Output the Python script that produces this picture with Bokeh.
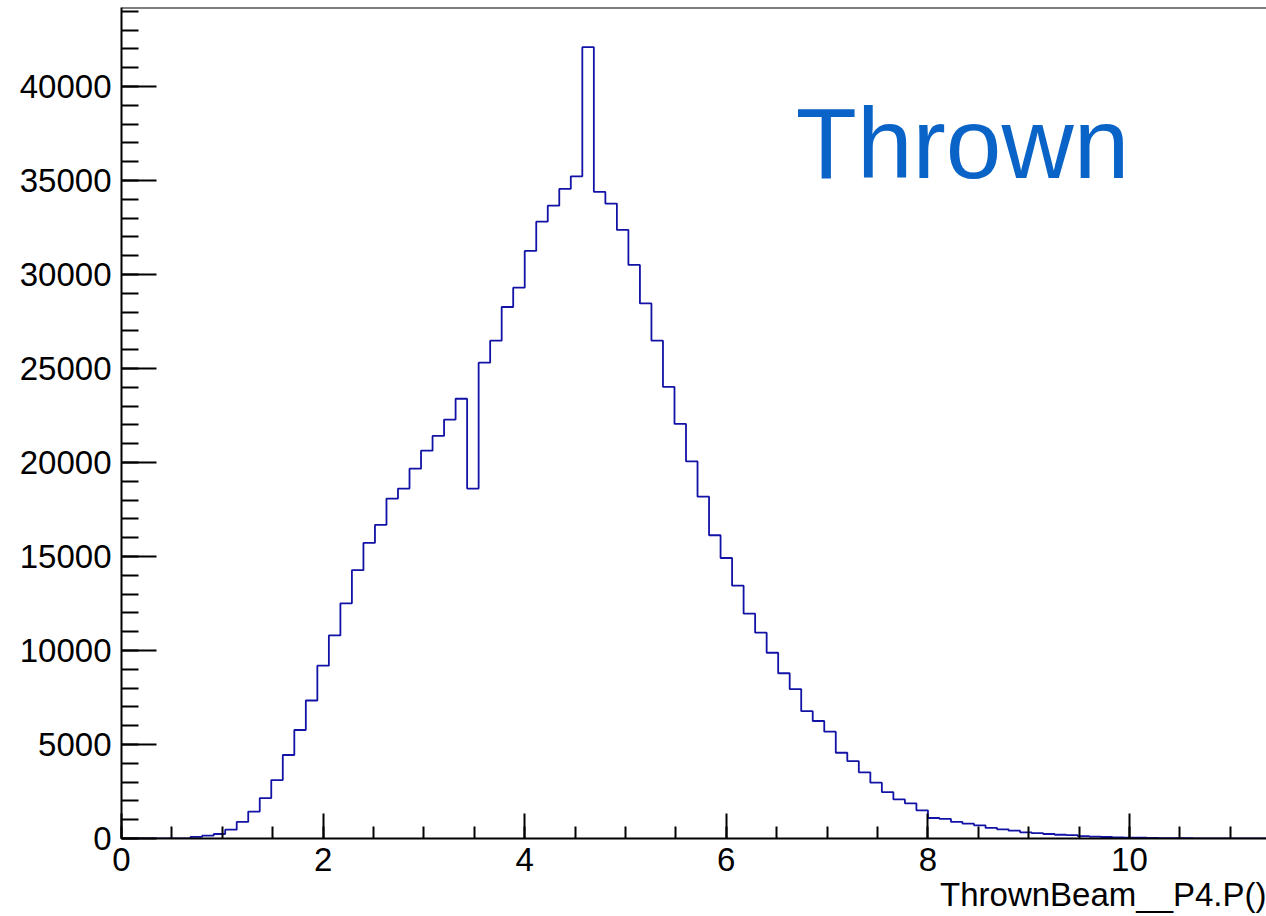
import numpy as np
from bokeh.plotting import figure
from bokeh.models import SingleIntervalTicker, Span, Label, Range1d, Title
from bokeh.embed import file_html
from bokeh.resources import INLINE

# Histogram: ThrownBeam__P4.P(), 100 bins from 0 to 11.43
hist_xmin = 0.0
hist_xmax = 11.43
counts = [
    0, 0, 0, 0, 0, 10, 90, 150, 240, 470,
    880, 1430, 2150, 3110, 4440, 5770, 7340, 9190, 10800, 12510,
    14270, 15720, 16680, 18080, 18610, 19670, 20630, 21410, 22280, 23390,
    18610, 25310, 26480, 28270, 29300, 31250, 32810, 33660, 34550, 35220,
    42090, 34390, 33770, 32370, 30510, 28460, 26480, 24020, 22050, 20060,
    18180, 16130, 14920, 13450, 11960, 10950, 9880, 8790, 7950, 6770,
    6250, 5680, 4560, 4120, 3520, 2970, 2470, 2080, 1870, 1500,
    1090, 1040, 880, 790, 700, 560, 490, 415, 330, 290,
    240, 200, 180, 130, 100, 80, 65, 50, 40, 30,
    25, 20, 14, 10, 8, 6, 4, 3, 2, 1,
]
x_title = "ThrownBeam__P4.P()"
label_text = "Thrown"

X_START, X_END = 0.0, 11.36
Y_START, Y_END = 0.0, 44200.0

n_bins = len(counts)
edges = np.linspace(hist_xmin, hist_xmax, n_bins + 1)
step_y = list(counts) + [counts[-1]]

FONT = "Liberation Sans"

p = figure(
    width=1266, height=916,
    x_range=Range1d(X_START, X_END), y_range=Range1d(Y_START, Y_END),
    output_backend="svg", toolbar_location=None,
    min_border_left=121, min_border_right=0, min_border_top=7, min_border_bottom=78,
)
p.outline_line_color = None
p.xgrid.visible = False
p.ygrid.visible = False
p.background_fill_color = "white"
p.border_fill_color = "white"

p.step(edges, step_y, mode="after", line_color="#1212a6", line_width=1.8)

# axes
xa = p.xaxis[0]
xa.ticker = SingleIntervalTicker(interval=2, num_minor_ticks=4)
xa.major_tick_in = 25
xa.major_tick_out = 0
xa.minor_tick_in = 12
xa.minor_tick_out = 0
xa.axis_line_width = 2
xa.major_tick_line_width = 2
xa.minor_tick_line_width = 2
xa.major_label_text_font = FONT
xa.major_label_text_font_size = "33px"
xa.major_label_text_color = "black"
xa.major_label_standoff = 9

ya = p.yaxis[0]
ya.ticker = SingleIntervalTicker(interval=5000, num_minor_ticks=5)
ya.major_tick_in = 35
ya.major_tick_out = 0
ya.minor_tick_in = 17
ya.minor_tick_out = 0
ya.axis_line_width = 2
ya.major_tick_line_width = 2
ya.minor_tick_line_width = 2
ya.major_label_text_font = FONT
ya.major_label_text_font_size = "33px"
ya.major_label_text_color = "black"
ya.major_label_standoff = 10

# x-axis title, right-aligned under the axis
p.add_layout(Title(
    text=x_title, align="right", text_font=FONT, text_font_size="33px",
    text_font_style="normal", text_color="black", standoff=0, offset=0,
), "below")

# top frame line
p.add_layout(Span(location=Y_END, dimension="width", line_color="black", line_width=2))

p.add_layout(Label(
    x=6.69, y=37000, text=label_text,
    text_font=FONT, text_font_size="100px", text_color="#0a64c8",
    text_baseline="alphabetic", text_align="left",
))

open("out.html", "w").write(file_html(p, INLINE))
